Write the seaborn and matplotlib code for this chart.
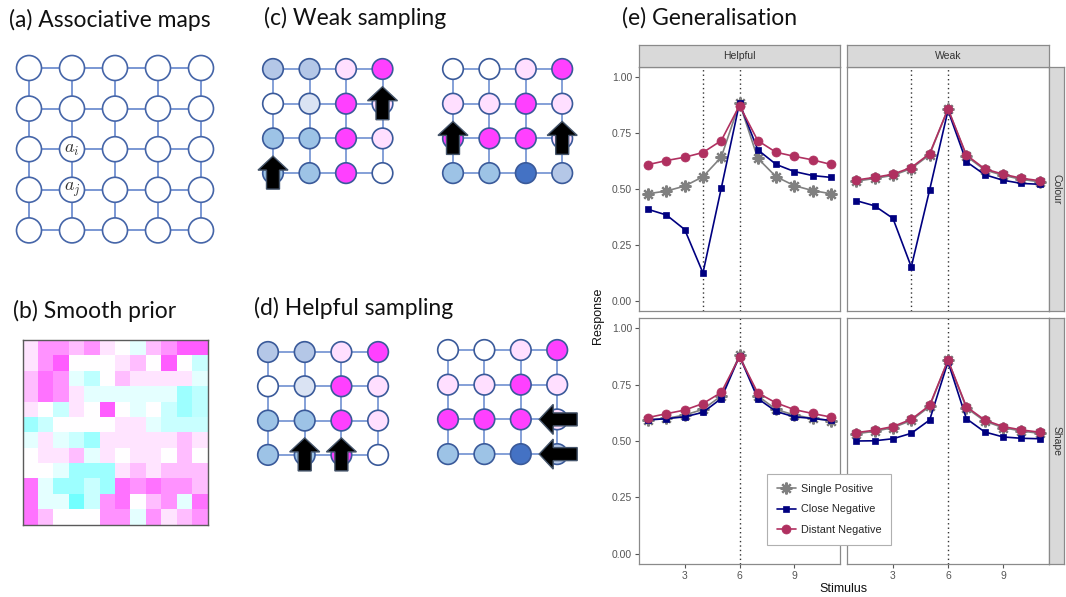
import numpy as np
import pandas as pd
import matplotlib
matplotlib.use("Agg")
import matplotlib.pyplot as plt
import seaborn as sns
from matplotlib.patches import Circle, FancyArrow
from matplotlib.lines import Line2D
from matplotlib.colors import LinearSegmentedColormap

# ---------------- data: panel (e) ----------------
stimulus = list(range(1, 12))
helpful_colour_single = [0.479, 0.491, 0.513, 0.555, 0.642, 0.884, 0.637, 0.555, 0.515, 0.493, 0.479]
helpful_colour_close = [0.409, 0.384, 0.319, 0.125, 0.503, 0.884, 0.675, 0.610, 0.578, 0.560, 0.552]
helpful_colour_distant = [0.609, 0.627, 0.642, 0.663, 0.716, 0.873, 0.716, 0.664, 0.646, 0.630, 0.610]
weak_colour_single = [0.535, 0.547, 0.561, 0.591, 0.653, 0.858, 0.647, 0.585, 0.561, 0.543, 0.532]
weak_colour_close = [0.448, 0.425, 0.369, 0.152, 0.496, 0.851, 0.622, 0.564, 0.539, 0.525, 0.521]
weak_colour_distant = [0.540, 0.552, 0.566, 0.596, 0.658, 0.858, 0.652, 0.590, 0.566, 0.548, 0.537]
helpful_shape_single = [0.595, 0.600, 0.615, 0.640, 0.700, 0.880, 0.700, 0.640, 0.615, 0.600, 0.590]
helpful_shape_close = [0.593, 0.599, 0.607, 0.627, 0.688, 0.876, 0.688, 0.631, 0.607, 0.600, 0.591]
helpful_shape_distant = [0.604, 0.621, 0.637, 0.666, 0.715, 0.872, 0.713, 0.669, 0.639, 0.622, 0.606]
weak_shape_single = [0.532, 0.543, 0.559, 0.591, 0.653, 0.858, 0.647, 0.588, 0.559, 0.544, 0.534]
weak_shape_close = [0.500, 0.501, 0.510, 0.534, 0.593, 0.851, 0.599, 0.540, 0.518, 0.512, 0.510]
weak_shape_distant = [0.537, 0.548, 0.564, 0.596, 0.658, 0.858, 0.652, 0.593, 0.564, 0.549, 0.539]

conditions = ["Helpful", "Weak"]
features = ["Colour", "Shape"]
series_names = ["Single Positive", "Close Negative", "Distant Negative"]
guide_lines = {"Colour": [4, 6], "Shape": [6]}
x_ticks = [3, 6, 9]
y_ticks = [0.00, 0.25, 0.50, 0.75, 1.00]

# ---------------- data: panel (b) smooth prior ----------------
prior_values = [
    [0.5, 2, 2, 1.2, 2, 0.5, 0, -0.5, 1.2, 2, 3, 3],
    [0.5, 2, 3, 0, 0, 0, 0.5, 1.2, 0, 3, 0, -1],
    [1.2, 2.6, 2, -0.5, -1.2, 0, 1.2, 0.5, 0.5, 0.5, 0.5, -0.5],
    [1.2, 2.6, 2, 0.5, -0.5, -0.5, -0.5, -0.5, -0.5, -0.5, -1.8, -1.2],
    [0.5, 0, -1, 0.5, 0, 3, 0, -0.5, 0, -1, -1.8, -1.2],
    [-1.8, -1, 0, 0, 0, 0, 0.5, 0.5, -0.5, -1, -1, -1],
    [-0.5, 0.5, -0.5, -1, -1.8, 0.5, 0.5, 0.5, 0.5, 0.5, 1.2, 0.5],
    [0, 0.5, 0.5, 1.2, -0.5, 0.5, 0, 0.5, 0.5, 0, 1.2, 0],
    [0, 0, -0.5, -1.8, -1.8, -1.8, 0.5, 1.2, 0.5, 1.2, 1.2, 1.2],
    [2.6, -0.5, -1.8, -1.8, -1, -1.8, 2.6, 2, 2.6, 2, 2, 1.2],
    [2.6, -0.5, -0.5, -2.6, -1, 2, 2.6, 0, 1.2, 2, -0.5, 2.6],
    [2.6, 1.2, 0, 0, 0, 2, 2, -0.5, 2, 0.5, 1.2, 2],
]

# ---------------- data: panels (c), (d) sampling grids ----------------
weak_left = [list("SSPM"), list("WVMP"), list("LLMP"), list("LLMW")]
weak_right = [list("WWPM"), list("PPMP"), list("MMMP"), list("LLDS")]
helpful_left = [list("SSPM"), list("WVMP"), list("LLMP"), list("LLMW")]
helpful_right = [list("WWPM"), list("PPMP"), list("MMMP"), list("LLDS")]
weak_left_arrows = [(1, 3, "up"), (3, 0, "up")]
weak_right_arrows = [(2, 0, "up"), (2, 3, "up")]
helpful_left_arrows = [(3, 1, "up"), (3, 2, "up")]
helpful_right_arrows = [(2, 3, "left"), (3, 3, "left")]

node_palette = {"S": "#b4c7e7", "V": "#dae3f3", "L": "#9dc3e6", "D": "#4472c4",
                "P": "#ffdfff", "M": "#ff40ff", "W": "#ffffff"}

# ---------------- figure ----------------
sns.set_theme(style="white")
plt.rcParams["font.family"] = ["Liberation Sans", "DejaVu Sans"]
plt.rcParams["mathtext.fontset"] = "cm"

W, H = 1066, 597
fig = plt.figure(figsize=(W / 100, H / 100), dpi=100)


def px_axes(x0, y0, x1, y1, **kw):
    return fig.add_axes([x0 / W, 1 - y1 / H, (x1 - x0) / W, (y1 - y0) / H], **kw)


ov = px_axes(0, 0, W, H)
ov.set_xlim(0, W)
ov.set_ylim(H, 0)
ov.axis("off")

title_font = dict(family=["Lato", "DejaVu Sans"], fontsize=16.5, color="#111111", va="center", ha="left")
ov.text(9, 20, "(a) Associative maps", **title_font)
ov.text(13, 311, "(b) Smooth prior", **title_font)
ov.text(264, 18, "(c) Weak sampling", **title_font)
ov.text(254, 308, "(d) Helpful sampling", **title_font)
ov.text(622, 18, "(e) Generalisation", **title_font)


def draw_grid(ax, x0, y0, dx, dy, colors, r, edge="#3a5a9a", linec="#7b98d4"):
    nr, nc = len(colors), len(colors[0])
    xs = x0 + dx * np.arange(nc)
    ys = y0 + dy * np.arange(nr)
    for y in ys:
        ax.plot([xs[0], xs[-1]], [y, y], color=linec, lw=1.3, zorder=1)
    for x in xs:
        ax.plot([x, x], [ys[0], ys[-1]], color=linec, lw=1.3, zorder=1)
    for i in range(nr):
        for j in range(nc):
            ax.add_patch(Circle((xs[j], ys[i]), r, facecolor=node_palette[colors[i][j]],
                                edgecolor=edge, lw=1.2, zorder=2))
    return xs, ys


def draw_arrows(ax, xs, ys, arrows):
    for (i, j, d) in arrows:
        cx, cy = xs[j], ys[i]
        if d == "up":
            a = FancyArrow(cx, cy + 16, 0, -33, width=13, head_width=30, head_length=14,
                           length_includes_head=True, facecolor="black", edgecolor="#44546a",
                           lw=1.0, zorder=3)
        else:
            a = FancyArrow(cx + 20, cy, -38, 0, width=13, head_width=30, head_length=14,
                           length_includes_head=True, facecolor="black", edgecolor="#44546a",
                           lw=1.0, zorder=3)
        ax.add_patch(a)


# panel (a)
blank = [list("WWWWW") for _ in range(5)]
xs_a, ys_a = draw_grid(ov, 29, 68, 43, 40.6, blank, 12.5, edge="#4565a8", linec="#6f8fd0")
ov.text(xs_a[1], ys_a[2], r"$a_i$", fontsize=13, ha="center", va="center", color="#333333", zorder=4)
ov.text(xs_a[1], ys_a[3], r"$a_j$", fontsize=13, ha="center", va="center", color="#333333", zorder=4)

# panel (c)
xs, ys = draw_grid(ov, 273, 69, 36.5, 34.7, weak_left, 10.3)
draw_arrows(ov, xs, ys, weak_left_arrows)
xs, ys = draw_grid(ov, 453, 69, 36.4, 34.7, weak_right, 10.3)
draw_arrows(ov, xs, ys, weak_right_arrows)

# panel (d)
xs, ys = draw_grid(ov, 268, 352, 36.7, 34.3, helpful_left, 10.3)
draw_arrows(ov, xs, ys, helpful_left_arrows)
xs, ys = draw_grid(ov, 448, 350, 36.4, 34.7, helpful_right, 10.3)
draw_arrows(ov, xs, ys, helpful_right_arrows)

# panel (b)
axb = px_axes(22.5, 340, 207.5, 524.5)
prior_cmap = LinearSegmentedColormap.from_list("cw_m", ["#5cffff", "#ffffff", "#ff5cff"])
sns.heatmap(np.array(prior_values), ax=axb, cmap=prior_cmap, vmin=-3, vmax=3, cbar=False,
            xticklabels=False, yticklabels=False, linewidths=0)
for sp in axb.spines.values():
    sp.set_visible(True)
    sp.set_color("#5a5a5a")
    sp.set_linewidth(1.0)

# ---------------- panel (e) ----------------
rows = []
data_map = {
    ("Helpful", "Colour"): [helpful_colour_single, helpful_colour_close, helpful_colour_distant],
    ("Weak", "Colour"): [weak_colour_single, weak_colour_close, weak_colour_distant],
    ("Helpful", "Shape"): [helpful_shape_single, helpful_shape_close, helpful_shape_distant],
    ("Weak", "Shape"): [weak_shape_single, weak_shape_close, weak_shape_distant],
}
for (cond, feat), lists in data_map.items():
    for name, vals in zip(series_names, lists):
        for s, v in zip(stimulus, vals):
            rows.append(dict(Condition=cond, Feature=feat, Series=name, Stimulus=s, Response=v))
df = pd.DataFrame(rows)

styles = {
    "Single Positive": dict(color="#808080", marker=(8, 2, 0), markersize=8.5,
                            markeredgecolor="#808080", markeredgewidth=1.6),
    "Close Negative": dict(color="#000080", marker="s", markersize=5,
                           markeredgecolor="#000080", markeredgewidth=0.5),
    "Distant Negative": dict(color="#b03060", marker="o", markersize=6.5,
                             markeredgecolor="#b03060", markeredgewidth=0.5),
}

col_x = {"Helpful": (639, 840), "Weak": (847, 1049)}
row_y = {"Colour": (67, 311), "Shape": (318, 564)}
border = "#8a8a8a"
strip_face = "#d9d9d9"

axes_e = {}
for feat in features:
    for cond in conditions:
        x0, x1 = col_x[cond]
        y0, y1 = row_y[feat]
        ax = px_axes(x0, y0, x1, y1)
        axes_e[(cond, feat)] = ax
        ax.set_facecolor("white")
        for xv in guide_lines[feat]:
            ax.axvline(xv, color="#333333", ls=(0, (1, 2.2)), lw=1.0, zorder=1)
        sub = df[(df.Condition == cond) & (df.Feature == feat)]
        for name in series_names:
            s = sub[sub.Series == name]
            sns.lineplot(data=s, x="Stimulus", y="Response", ax=ax, lw=1.2, legend=False,
                         zorder=2, **styles[name])
        ax.set_xlim(0.5, 11.5)
        ax.set_ylim(-0.045, 1.045)
        ax.set_xticks(x_ticks)
        ax.set_yticks(y_ticks)
        ax.set_xlabel("")
        ax.set_ylabel("")
        ax.grid(False)
        for sp in ax.spines.values():
            sp.set_visible(True)
            sp.set_color(border)
            sp.set_linewidth(0.9)
        ax.tick_params(axis="both", length=3, width=0.8, color="#555555",
                       labelsize=7.5, labelcolor="#555555", pad=2)
        if cond == "Helpful":
            ax.set_yticklabels([f"{v:.2f}" for v in y_ticks])
            ax.tick_params(axis="y", left=True)
        else:
            ax.tick_params(axis="y", left=False, labelleft=False)
        if feat == "Shape":
            ax.set_xticklabels([str(v) for v in x_ticks])
            ax.tick_params(axis="x", bottom=True)
        else:
            ax.tick_params(axis="x", bottom=False, labelbottom=False)

# strips
for cond in conditions:
    x0, x1 = col_x[cond]
    st = px_axes(x0, 45, x1, 67)
    st.set_facecolor(strip_face)
    st.set_xticks([]); st.set_yticks([])
    for sp in st.spines.values():
        sp.set_color(border); sp.set_linewidth(0.9)
    st.text(0.5, 0.5, cond, ha="center", va="center", fontsize=7.5, color="#333333",
            transform=st.transAxes)
for feat in features:
    y0, y1 = row_y[feat]
    st = px_axes(1049, y0, 1064, y1)
    st.set_facecolor(strip_face)
    st.set_xticks([]); st.set_yticks([])
    for sp in st.spines.values():
        sp.set_color(border); sp.set_linewidth(0.9)
    st.text(0.5, 0.5, feat, ha="center", va="center", fontsize=7.5, color="#333333",
            rotation=-90, transform=st.transAxes)

ov.text(598, 316, "Response", rotation=90, ha="center", va="center", fontsize=9, color="#111111")
ov.text(843, 589, "Stimulus", ha="center", va="center", fontsize=9, color="#111111")

handles = [Line2D([0], [0], lw=1.2, **styles[n]) for n in series_names]
leg = fig.legend(
    handles, series_names, loc="upper left",
    bbox_to_anchor=(762 / W, 1 - 469 / H), bbox_transform=fig.transFigure,
    frameon=True, fancybox=False, edgecolor="#b0b0b0", fontsize=7.8,
    handlelength=1.7, labelspacing=0.95, borderpad=0.9, handletextpad=0.5)
leg.get_frame().set_linewidth(0.8)
leg.get_frame().set_facecolor("white")
leg.get_frame().set_alpha(1.0)
leg.set_zorder(20)

fig.savefig("out.png", dpi=100)
